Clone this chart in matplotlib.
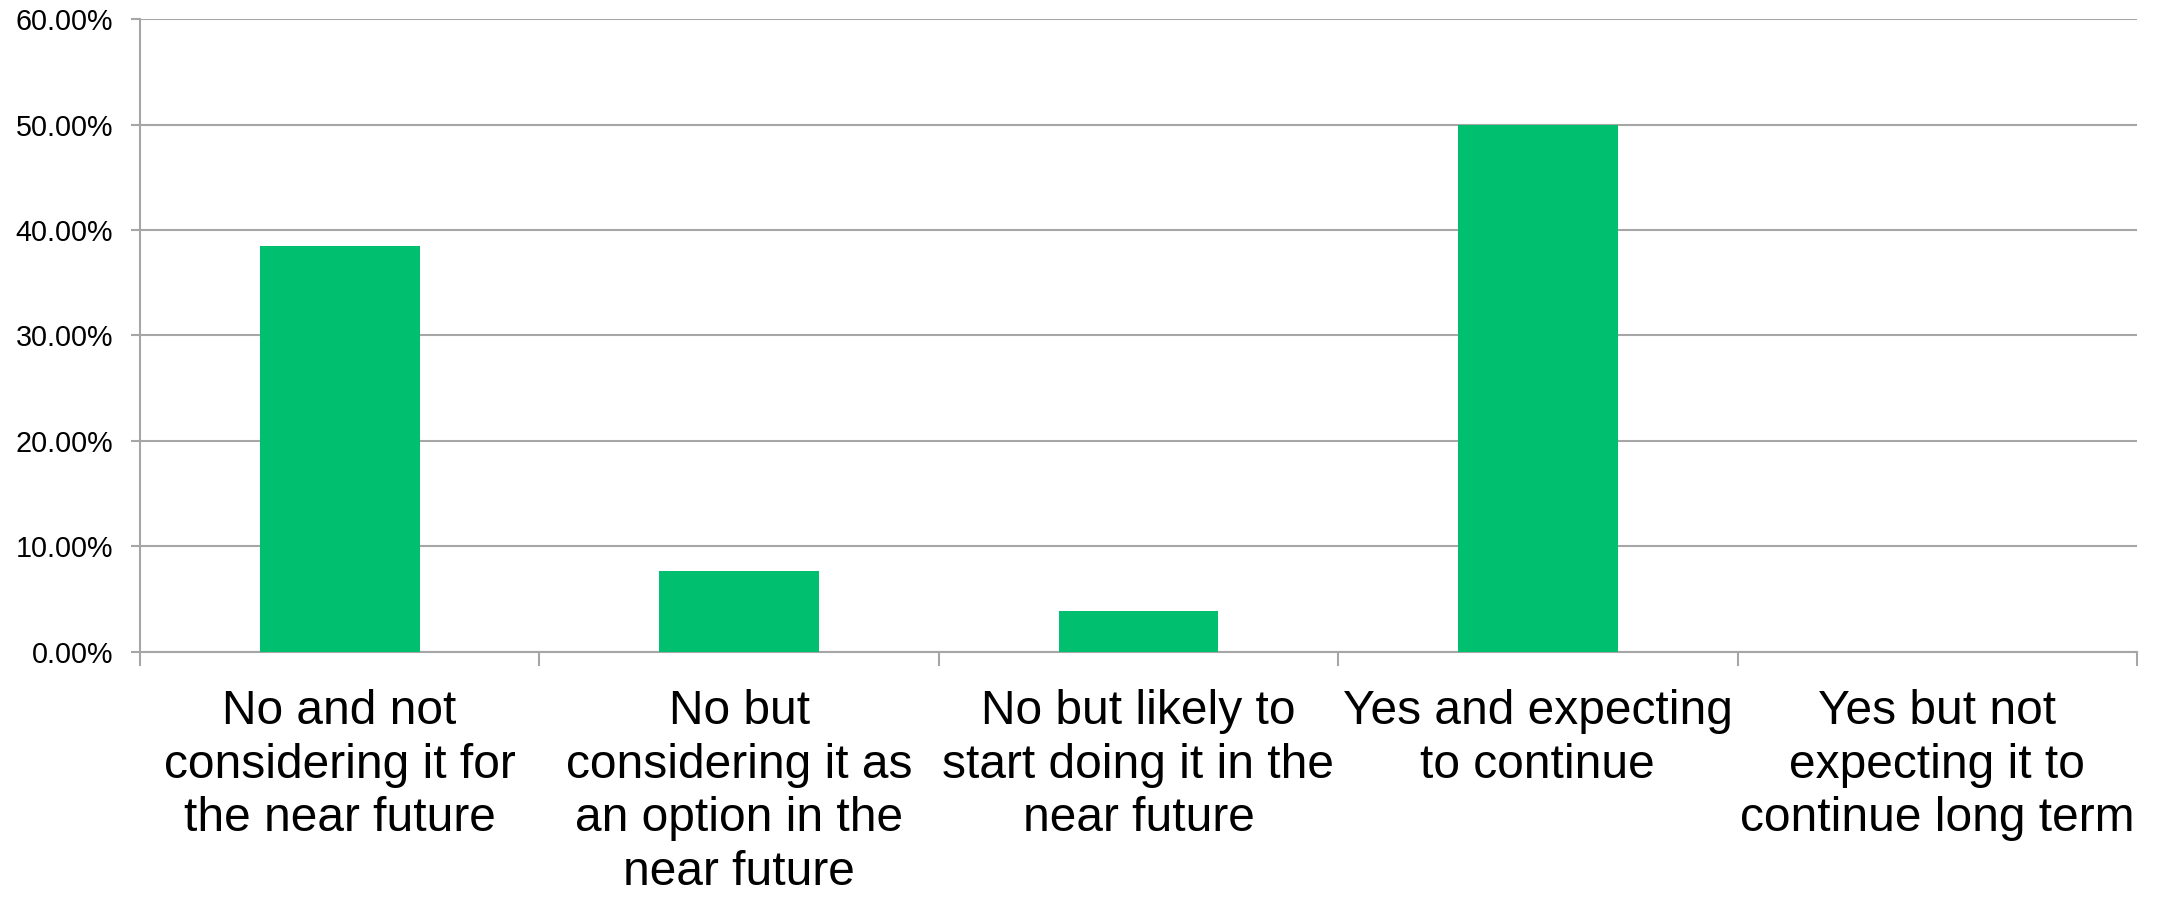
import numpy as np
import matplotlib.pyplot as plt
from matplotlib.ticker import FuncFormatter

categories = [
    "No and not\nconsidering it for\nthe near future",
    "No but\nconsidering it as\nan option in the\nnear future",
    "No but likely to\nstart doing it in the\nnear future",
    "Yes and expecting\nto continue",
    "Yes but not\nexpecting it to\ncontinue long term",
]
values = [38.46, 7.69, 3.85, 50.0, 0.0]
yticks = [0, 10, 20, 30, 40, 50, 60]

plt.rcParams['font.family'] = ['Liberation Sans', 'DejaVu Sans']
grid_c = "#a6a6a6"

fig = plt.figure(figsize=(21.57, 8.98), dpi=100)
ax = fig.add_axes([0.0649, 0.274, 0.9258, 0.7048])

x = np.arange(len(categories))
ax.bar(x, values, width=0.4, color="#00bf6f", zorder=3)

ax.set_xlim(-0.5, len(categories) - 0.5)
ax.set_ylim(0, 60)
ax.set_yticks(yticks)
ax.yaxis.set_major_formatter(FuncFormatter(lambda v, p: f"{v:.2f}%"))
ax.yaxis.grid(True, color=grid_c, linewidth=1.5, zorder=0)

ax.set_xticks(x)
ax.set_xticklabels(categories, fontsize=34.5, va="top", ha="center", linespacing=1.24)
ax.set_xticks(np.arange(-0.5, len(categories)), minor=True)
ax.tick_params(axis="x", which="major", length=0, pad=27)
ax.tick_params(axis="x", which="minor", length=10, width=1.5, color=grid_c)
ax.tick_params(axis="y", labelsize=20.7, length=6.5, width=1.5, color=grid_c, pad=13)

for s in ["top", "right"]:
    ax.spines[s].set_visible(False)
for s in ["left", "bottom"]:
    ax.spines[s].set_color(grid_c)
    ax.spines[s].set_linewidth(1.5)

fig.savefig("out.png", dpi=100)
plt.close(fig)
